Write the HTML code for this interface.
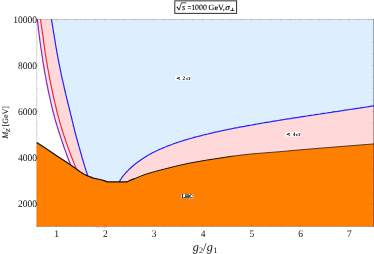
<!DOCTYPE html>
<html><head><meta charset="utf-8"><title>plot</title>
<style>
html,body{margin:0;padding:0;background:#fff;}
body{width:374px;height:254px;overflow:hidden;}
svg{display:block;will-change:transform;font-family:"Liberation Serif",serif;}
text{text-rendering:geometricPrecision;}
</style></head><body>
<svg width="374" height="254" viewBox="0 0 374 254">
<rect width="374" height="254" fill="#fff"/>
<path d="M37.3,19.4 L37.6,21.9 L37.9,24.3 L38.2,26.8 L38.4,29.3 L38.8,31.7 L39.1,34.2 L39.4,36.6 L39.7,39.1 L40.0,41.6 L40.4,44.0 L40.7,46.5 L41.1,49.0 L41.5,51.4 L41.8,53.9 L42.2,56.3 L42.6,58.8 L42.9,61.3 L43.3,63.7 L43.7,66.2 L44.1,68.7 L44.5,71.1 L45.0,73.6 L45.4,76.0 L45.9,78.5 L46.3,81.0 L46.8,83.4 L47.3,85.9 L47.8,88.4 L48.3,90.8 L48.8,93.3 L49.4,95.7 L49.9,98.2 L50.5,100.7 L51.0,103.1 L51.6,105.6 L52.2,108.1 L52.8,110.5 L53.4,113.0 L54.1,115.4 L54.7,117.9 L55.4,120.4 L56.1,122.8 L56.9,125.3 L57.6,127.8 L58.4,130.2 L59.2,132.7 L60.0,135.1 L60.8,137.6 L61.6,140.1 L62.5,142.5 L63.3,145.0 L64.1,147.5 L65.0,149.9 L65.9,152.4 L66.8,154.8 L67.6,157.3 L68.6,159.8 L69.5,162.2 L70.4,164.7 L76.3,168.7 L75.3,166.2 L74.2,163.6 L73.2,161.1 L72.2,158.6 L71.2,156.0 L70.3,153.5 L69.3,151.0 L68.4,148.5 L67.5,145.9 L66.6,143.4 L65.7,140.9 L64.9,138.3 L64.0,135.8 L63.2,133.3 L62.4,130.7 L61.6,128.2 L60.8,125.7 L60.1,123.2 L59.4,120.6 L58.7,118.1 L58.0,115.6 L57.3,113.0 L56.7,110.5 L56.1,108.0 L55.5,105.4 L54.9,102.9 L54.3,100.4 L53.7,97.8 L53.2,95.3 L52.6,92.8 L52.1,90.3 L51.5,87.7 L51.0,85.2 L50.5,82.7 L50.0,80.1 L49.5,77.6 L49.0,75.1 L48.6,72.5 L48.1,70.0 L47.6,67.5 L47.2,64.9 L46.8,62.4 L46.3,59.9 L45.9,57.4 L45.5,54.8 L45.1,52.3 L44.8,49.8 L44.4,47.2 L44.1,44.7 L43.7,42.2 L43.4,39.6 L43.1,37.1 L42.7,34.6 L42.3,32.1 L42.0,29.5 L41.6,27.0 L41.2,24.5 L40.9,21.9 L40.5,19.4Z" fill="#ece6fb"/>
<path d="M40.5,19.4 L40.9,21.9 L41.2,24.5 L41.6,27.0 L42.0,29.5 L42.3,32.1 L42.7,34.6 L43.1,37.1 L43.4,39.6 L43.7,42.2 L44.1,44.7 L44.4,47.2 L44.8,49.8 L45.1,52.3 L45.5,54.8 L45.9,57.4 L46.3,59.9 L46.8,62.4 L47.2,64.9 L47.6,67.5 L48.1,70.0 L48.6,72.5 L49.0,75.1 L49.5,77.6 L50.0,80.1 L50.5,82.7 L51.0,85.2 L51.5,87.7 L52.1,90.3 L52.6,92.8 L53.2,95.3 L53.7,97.8 L54.3,100.4 L54.9,102.9 L55.5,105.4 L56.1,108.0 L56.7,110.5 L57.3,113.0 L58.0,115.6 L58.7,118.1 L59.4,120.6 L60.1,123.2 L60.8,125.7 L61.6,128.2 L62.4,130.7 L63.2,133.3 L64.0,135.8 L64.9,138.3 L65.7,140.9 L66.6,143.4 L67.5,145.9 L68.4,148.5 L69.3,151.0 L70.3,153.5 L71.2,156.0 L72.2,158.6 L73.2,161.1 L74.2,163.6 L75.3,166.2 L76.3,168.7 L76.4,168.9 L80.0,171.7 L84.0,174.2 L87.7,175.9 L86.9,173.2 L86.0,170.6 L85.2,167.9 L84.4,165.3 L83.6,162.6 L82.8,160.0 L82.0,157.3 L81.3,154.7 L80.5,152.0 L79.8,149.4 L79.0,146.7 L78.3,144.1 L77.6,141.4 L76.8,138.8 L76.1,136.1 L75.4,133.5 L74.7,130.8 L74.1,128.2 L73.4,125.5 L72.8,122.8 L72.1,120.2 L71.5,117.5 L70.8,114.9 L70.2,112.2 L69.5,109.6 L68.9,106.9 L68.2,104.3 L67.6,101.6 L66.9,99.0 L66.3,96.3 L65.6,93.7 L65.0,91.0 L64.4,88.4 L63.8,85.7 L63.2,83.1 L62.6,80.4 L62.0,77.8 L61.4,75.1 L60.9,72.5 L60.3,69.8 L59.8,67.1 L59.2,64.5 L58.7,61.8 L58.2,59.2 L57.7,56.5 L57.2,53.9 L56.7,51.2 L56.3,48.6 L55.8,45.9 L55.4,43.3 L55.0,40.6 L54.5,38.0 L54.1,35.3 L53.6,32.7 L53.2,30.0 L52.8,27.4 L52.3,24.7 L51.9,22.1 L51.4,19.4Z" fill="#ffd9d9"/>
<path d="M51.4,19.4 L51.9,22.1 L52.3,24.7 L52.8,27.4 L53.2,30.0 L53.6,32.7 L54.1,35.3 L54.5,38.0 L55.0,40.6 L55.4,43.3 L55.8,45.9 L56.3,48.6 L56.7,51.2 L57.2,53.9 L57.7,56.5 L58.2,59.2 L58.7,61.8 L59.2,64.5 L59.8,67.1 L60.3,69.8 L60.9,72.5 L61.4,75.1 L62.0,77.8 L62.6,80.4 L63.2,83.1 L63.8,85.7 L64.4,88.4 L65.0,91.0 L65.6,93.7 L66.3,96.3 L66.9,99.0 L67.6,101.6 L68.2,104.3 L68.9,106.9 L69.5,109.6 L70.2,112.2 L70.8,114.9 L71.5,117.5 L72.1,120.2 L72.8,122.8 L73.4,125.5 L74.1,128.2 L74.7,130.8 L75.4,133.5 L76.1,136.1 L76.8,138.8 L77.6,141.4 L78.3,144.1 L79.0,146.7 L79.8,149.4 L80.5,152.0 L81.3,154.7 L82.0,157.3 L82.8,160.0 L83.6,162.6 L84.4,165.3 L85.2,167.9 L86.0,170.6 L86.9,173.2 L87.7,175.9 L93.4,178.1 L100.0,179.5 L104.0,180.7 L107.4,181.8 L119.2,182.2 L119.3,182.0 L119.4,181.8 L119.5,181.5 L119.6,181.3 L119.7,181.0 L119.8,180.8 L120.0,180.5 L120.1,180.2 L120.3,179.9 L120.5,179.6 L120.7,179.3 L120.9,179.0 L121.1,178.6 L121.4,178.3 L121.6,177.9 L121.9,177.6 L122.1,177.2 L122.4,176.8 L122.7,176.4 L123.0,176.1 L123.3,175.7 L123.7,175.2 L124.0,174.8 L124.4,174.4 L124.7,174.0 L125.1,173.6 L125.5,173.1 L125.9,172.7 L126.3,172.2 L126.8,171.8 L127.2,171.3 L127.7,170.9 L128.1,170.4 L128.6,169.9 L129.1,169.4 L129.6,169.0 L130.1,168.5 L130.6,168.0 L131.2,167.5 L131.7,167.0 L132.3,166.5 L132.9,166.0 L133.4,165.5 L134.0,165.0 L134.7,164.5 L135.3,164.0 L135.9,163.5 L136.6,163.0 L137.2,162.5 L137.9,162.0 L138.6,161.5 L139.3,161.0 L140.0,160.5 L140.7,160.0 L141.4,159.5 L142.2,159.0 L142.9,158.5 L143.7,158.0 L144.5,157.5 L145.3,157.0 L146.1,156.5 L146.9,156.0 L147.7,155.5 L148.6,155.0 L149.4,154.5 L150.3,154.0 L151.2,153.6 L152.1,153.1 L153.0,152.6 L153.9,152.1 L154.8,151.7 L155.8,151.2 L156.7,150.8 L157.7,150.3 L158.7,149.8 L159.6,149.4 L160.6,149.0 L161.7,148.5 L162.7,148.1 L163.7,147.6 L164.8,147.2 L165.8,146.8 L166.9,146.3 L168.0,145.9 L169.1,145.5 L170.2,145.1 L171.3,144.7 L172.5,144.2 L173.6,143.8 L174.8,143.4 L175.9,143.0 L177.1,142.6 L178.3,142.2 L179.5,141.8 L180.7,141.4 L182.0,141.0 L183.2,140.6 L184.5,140.2 L185.7,139.9 L187.0,139.5 L188.3,139.1 L189.6,138.7 L190.9,138.3 L192.3,138.0 L193.6,137.6 L195.0,137.2 L196.3,136.8 L197.7,136.5 L199.1,136.1 L200.5,135.8 L201.9,135.4 L203.3,135.0 L204.8,134.7 L206.2,134.3 L207.7,134.0 L209.2,133.6 L210.6,133.3 L212.1,132.9 L213.7,132.6 L215.2,132.2 L216.7,131.9 L218.3,131.6 L219.8,131.2 L221.4,130.9 L223.0,130.5 L224.6,130.2 L226.2,129.9 L227.8,129.5 L229.4,129.2 L231.1,128.9 L232.7,128.5 L234.4,128.2 L236.1,127.9 L237.8,127.6 L239.5,127.2 L241.2,126.9 L242.9,126.6 L244.7,126.3 L246.4,125.9 L248.2,125.6 L250.0,125.3 L251.8,125.0 L253.6,124.6 L255.4,124.3 L257.2,124.0 L259.1,123.7 L260.9,123.4 L262.8,123.0 L264.7,122.7 L266.5,122.4 L268.4,122.1 L270.4,121.8 L272.3,121.4 L274.2,121.1 L276.2,120.8 L278.1,120.5 L280.1,120.2 L282.1,119.8 L284.1,119.5 L286.1,119.2 L288.1,118.9 L290.2,118.6 L292.2,118.2 L294.3,117.9 L296.3,117.6 L298.4,117.3 L300.5,116.9 L302.6,116.6 L304.7,116.3 L306.9,116.0 L309.0,115.6 L311.2,115.3 L313.3,115.0 L315.5,114.6 L317.7,114.3 L319.9,114.0 L322.1,113.6 L324.4,113.3 L326.6,113.0 L328.9,112.6 L331.1,112.3 L333.4,111.9 L335.7,111.6 L338.0,111.3 L340.3,110.9 L342.6,110.6 L345.0,110.2 L347.3,109.9 L349.7,109.5 L352.1,109.2 L354.5,108.8 L356.9,108.4 L359.3,108.1 L361.7,107.7 L364.1,107.4 L366.6,107.0 L369.0,106.6 L371.5,106.2 L374.0,105.9 L374.0,19.4Z" fill="#ddeeff"/>
<path d="M119.2,182.2 L119.3,182.0 L119.4,181.8 L119.5,181.5 L119.6,181.3 L119.7,181.0 L119.8,180.8 L120.0,180.5 L120.1,180.2 L120.3,179.9 L120.5,179.6 L120.7,179.3 L120.9,179.0 L121.1,178.6 L121.4,178.3 L121.6,177.9 L121.9,177.6 L122.1,177.2 L122.4,176.8 L122.7,176.4 L123.0,176.1 L123.3,175.7 L123.7,175.2 L124.0,174.8 L124.4,174.4 L124.7,174.0 L125.1,173.6 L125.5,173.1 L125.9,172.7 L126.3,172.2 L126.8,171.8 L127.2,171.3 L127.7,170.9 L128.1,170.4 L128.6,169.9 L129.1,169.4 L129.6,169.0 L130.1,168.5 L130.6,168.0 L131.2,167.5 L131.7,167.0 L132.3,166.5 L132.9,166.0 L133.4,165.5 L134.0,165.0 L134.7,164.5 L135.3,164.0 L135.9,163.5 L136.6,163.0 L137.2,162.5 L137.9,162.0 L138.6,161.5 L139.3,161.0 L140.0,160.5 L140.7,160.0 L141.4,159.5 L142.2,159.0 L142.9,158.5 L143.7,158.0 L144.5,157.5 L145.3,157.0 L146.1,156.5 L146.9,156.0 L147.7,155.5 L148.6,155.0 L149.4,154.5 L150.3,154.0 L151.2,153.6 L152.1,153.1 L153.0,152.6 L153.9,152.1 L154.8,151.7 L155.8,151.2 L156.7,150.8 L157.7,150.3 L158.7,149.8 L159.6,149.4 L160.6,149.0 L161.7,148.5 L162.7,148.1 L163.7,147.6 L164.8,147.2 L165.8,146.8 L166.9,146.3 L168.0,145.9 L169.1,145.5 L170.2,145.1 L171.3,144.7 L172.5,144.2 L173.6,143.8 L174.8,143.4 L175.9,143.0 L177.1,142.6 L178.3,142.2 L179.5,141.8 L180.7,141.4 L182.0,141.0 L183.2,140.6 L184.5,140.2 L185.7,139.9 L187.0,139.5 L188.3,139.1 L189.6,138.7 L190.9,138.3 L192.3,138.0 L193.6,137.6 L195.0,137.2 L196.3,136.8 L197.7,136.5 L199.1,136.1 L200.5,135.8 L201.9,135.4 L203.3,135.0 L204.8,134.7 L206.2,134.3 L207.7,134.0 L209.2,133.6 L210.6,133.3 L212.1,132.9 L213.7,132.6 L215.2,132.2 L216.7,131.9 L218.3,131.6 L219.8,131.2 L221.4,130.9 L223.0,130.5 L224.6,130.2 L226.2,129.9 L227.8,129.5 L229.4,129.2 L231.1,128.9 L232.7,128.5 L234.4,128.2 L236.1,127.9 L237.8,127.6 L239.5,127.2 L241.2,126.9 L242.9,126.6 L244.7,126.3 L246.4,125.9 L248.2,125.6 L250.0,125.3 L251.8,125.0 L253.6,124.6 L255.4,124.3 L257.2,124.0 L259.1,123.7 L260.9,123.4 L262.8,123.0 L264.7,122.7 L266.5,122.4 L268.4,122.1 L270.4,121.8 L272.3,121.4 L274.2,121.1 L276.2,120.8 L278.1,120.5 L280.1,120.2 L282.1,119.8 L284.1,119.5 L286.1,119.2 L288.1,118.9 L290.2,118.6 L292.2,118.2 L294.3,117.9 L296.3,117.6 L298.4,117.3 L300.5,116.9 L302.6,116.6 L304.7,116.3 L306.9,116.0 L309.0,115.6 L311.2,115.3 L313.3,115.0 L315.5,114.6 L317.7,114.3 L319.9,114.0 L322.1,113.6 L324.4,113.3 L326.6,113.0 L328.9,112.6 L331.1,112.3 L333.4,111.9 L335.7,111.6 L338.0,111.3 L340.3,110.9 L342.6,110.6 L345.0,110.2 L347.3,109.9 L349.7,109.5 L352.1,109.2 L354.5,108.8 L356.9,108.4 L359.3,108.1 L361.7,107.7 L364.1,107.4 L366.6,107.0 L369.0,106.6 L371.5,106.2 L374.0,105.9 L374.0,143.9 L350.0,145.8 L320.0,148.2 L300.7,149.8 L280.0,151.7 L260.2,153.2 L250.0,154.1 L233.5,156.0 L206.7,160.1 L190.0,163.0 L180.0,165.2 L174.2,166.6 L164.3,169.1 L155.3,171.4 L146.2,174.1 L142.1,175.6 L134.0,178.9 L130.8,180.0 L127.4,181.8 L119.2,181.8Z" fill="#ffd9d9"/>
<path d="M36.7,142.5 L46.0,148.6 L54.0,154.0 L70.4,164.8 L76.4,168.9 L80.0,171.7 L84.0,174.2 L87.7,175.9 L93.4,178.1 L100.0,179.5 L104.0,180.7 L107.4,181.8 L127.4,181.8 L130.8,180.0 L134.0,178.9 L142.1,175.6 L146.2,174.1 L155.3,171.4 L164.3,169.1 L174.2,166.6 L180.0,165.2 L190.0,163.0 L206.7,160.1 L233.5,156.0 L250.0,154.1 L260.2,153.2 L280.0,151.7 L300.7,149.8 L320.0,148.2 L350.0,145.8 L374.0,143.9 L374.0,226.5 L36.7,226.5Z" fill="#ff8000"/>
<path d="M37.3,19.4 L37.6,21.9 L37.9,24.3 L38.2,26.8 L38.4,29.3 L38.8,31.7 L39.1,34.2 L39.4,36.6 L39.7,39.1 L40.0,41.6 L40.4,44.0 L40.7,46.5 L41.1,49.0 L41.5,51.4 L41.8,53.9 L42.2,56.3 L42.6,58.8 L42.9,61.3 L43.3,63.7 L43.7,66.2 L44.1,68.7 L44.5,71.1 L45.0,73.6 L45.4,76.0 L45.9,78.5 L46.3,81.0 L46.8,83.4 L47.3,85.9 L47.8,88.4 L48.3,90.8 L48.8,93.3 L49.4,95.7 L49.9,98.2 L50.5,100.7 L51.0,103.1 L51.6,105.6 L52.2,108.1 L52.8,110.5 L53.4,113.0 L54.1,115.4 L54.7,117.9 L55.4,120.4 L56.1,122.8 L56.9,125.3 L57.6,127.8 L58.4,130.2 L59.2,132.7 L60.0,135.1 L60.8,137.6 L61.6,140.1 L62.5,142.5 L63.3,145.0 L64.1,147.5 L65.0,149.9 L65.9,152.4 L66.8,154.8 L67.6,157.3 L68.6,159.8 L69.5,162.2 L70.4,164.7" fill="none" stroke="#9028a8" stroke-width="1.2"/>
<path d="M40.5,19.4 L40.9,21.9 L41.2,24.5 L41.6,27.0 L42.0,29.5 L42.3,32.1 L42.7,34.6 L43.1,37.1 L43.4,39.6 L43.7,42.2 L44.1,44.7 L44.4,47.2 L44.8,49.8 L45.1,52.3 L45.5,54.8 L45.9,57.4 L46.3,59.9 L46.8,62.4 L47.2,64.9 L47.6,67.5 L48.1,70.0 L48.6,72.5 L49.0,75.1 L49.5,77.6 L50.0,80.1 L50.5,82.7 L51.0,85.2 L51.5,87.7 L52.1,90.3 L52.6,92.8 L53.2,95.3 L53.7,97.8 L54.3,100.4 L54.9,102.9 L55.5,105.4 L56.1,108.0 L56.7,110.5 L57.3,113.0 L58.0,115.6 L58.7,118.1 L59.4,120.6 L60.1,123.2 L60.8,125.7 L61.6,128.2 L62.4,130.7 L63.2,133.3 L64.0,135.8 L64.9,138.3 L65.7,140.9 L66.6,143.4 L67.5,145.9 L68.4,148.5 L69.3,151.0 L70.3,153.5 L71.2,156.0 L72.2,158.6 L73.2,161.1 L74.2,163.6 L75.3,166.2 L76.3,168.7" fill="none" stroke="#ff2020" stroke-width="1.15"/>
<path d="M51.4,19.4 L51.9,22.1 L52.3,24.7 L52.8,27.4 L53.2,30.0 L53.6,32.7 L54.1,35.3 L54.5,38.0 L55.0,40.6 L55.4,43.3 L55.8,45.9 L56.3,48.6 L56.7,51.2 L57.2,53.9 L57.7,56.5 L58.2,59.2 L58.7,61.8 L59.2,64.5 L59.8,67.1 L60.3,69.8 L60.9,72.5 L61.4,75.1 L62.0,77.8 L62.6,80.4 L63.2,83.1 L63.8,85.7 L64.4,88.4 L65.0,91.0 L65.6,93.7 L66.3,96.3 L66.9,99.0 L67.6,101.6 L68.2,104.3 L68.9,106.9 L69.5,109.6 L70.2,112.2 L70.8,114.9 L71.5,117.5 L72.1,120.2 L72.8,122.8 L73.4,125.5 L74.1,128.2 L74.7,130.8 L75.4,133.5 L76.1,136.1 L76.8,138.8 L77.6,141.4 L78.3,144.1 L79.0,146.7 L79.8,149.4 L80.5,152.0 L81.3,154.7 L82.0,157.3 L82.8,160.0 L83.6,162.6 L84.4,165.3 L85.2,167.9 L86.0,170.6 L86.9,173.2 L87.7,175.9" fill="none" stroke="#2222ff" stroke-width="1.2"/>
<path d="M119.2,182.2 L119.3,182.0 L119.4,181.8 L119.5,181.5 L119.6,181.3 L119.7,181.0 L119.8,180.8 L120.0,180.5 L120.1,180.2 L120.3,179.9 L120.5,179.6 L120.7,179.3 L120.9,179.0 L121.1,178.6 L121.4,178.3 L121.6,177.9 L121.9,177.6 L122.1,177.2 L122.4,176.8 L122.7,176.4 L123.0,176.1 L123.3,175.7 L123.7,175.2 L124.0,174.8 L124.4,174.4 L124.7,174.0 L125.1,173.6 L125.5,173.1 L125.9,172.7 L126.3,172.2 L126.8,171.8 L127.2,171.3 L127.7,170.9 L128.1,170.4 L128.6,169.9 L129.1,169.4 L129.6,169.0 L130.1,168.5 L130.6,168.0 L131.2,167.5 L131.7,167.0 L132.3,166.5 L132.9,166.0 L133.4,165.5 L134.0,165.0 L134.7,164.5 L135.3,164.0 L135.9,163.5 L136.6,163.0 L137.2,162.5 L137.9,162.0 L138.6,161.5 L139.3,161.0 L140.0,160.5 L140.7,160.0 L141.4,159.5 L142.2,159.0 L142.9,158.5 L143.7,158.0 L144.5,157.5 L145.3,157.0 L146.1,156.5 L146.9,156.0 L147.7,155.5 L148.6,155.0 L149.4,154.5 L150.3,154.0 L151.2,153.6 L152.1,153.1 L153.0,152.6 L153.9,152.1 L154.8,151.7 L155.8,151.2 L156.7,150.8 L157.7,150.3 L158.7,149.8 L159.6,149.4 L160.6,149.0 L161.7,148.5 L162.7,148.1 L163.7,147.6 L164.8,147.2 L165.8,146.8 L166.9,146.3 L168.0,145.9 L169.1,145.5 L170.2,145.1 L171.3,144.7 L172.5,144.2 L173.6,143.8 L174.8,143.4 L175.9,143.0 L177.1,142.6 L178.3,142.2 L179.5,141.8 L180.7,141.4 L182.0,141.0 L183.2,140.6 L184.5,140.2 L185.7,139.9 L187.0,139.5 L188.3,139.1 L189.6,138.7 L190.9,138.3 L192.3,138.0 L193.6,137.6 L195.0,137.2 L196.3,136.8 L197.7,136.5 L199.1,136.1 L200.5,135.8 L201.9,135.4 L203.3,135.0 L204.8,134.7 L206.2,134.3 L207.7,134.0 L209.2,133.6 L210.6,133.3 L212.1,132.9 L213.7,132.6 L215.2,132.2 L216.7,131.9 L218.3,131.6 L219.8,131.2 L221.4,130.9 L223.0,130.5 L224.6,130.2 L226.2,129.9 L227.8,129.5 L229.4,129.2 L231.1,128.9 L232.7,128.5 L234.4,128.2 L236.1,127.9 L237.8,127.6 L239.5,127.2 L241.2,126.9 L242.9,126.6 L244.7,126.3 L246.4,125.9 L248.2,125.6 L250.0,125.3 L251.8,125.0 L253.6,124.6 L255.4,124.3 L257.2,124.0 L259.1,123.7 L260.9,123.4 L262.8,123.0 L264.7,122.7 L266.5,122.4 L268.4,122.1 L270.4,121.8 L272.3,121.4 L274.2,121.1 L276.2,120.8 L278.1,120.5 L280.1,120.2 L282.1,119.8 L284.1,119.5 L286.1,119.2 L288.1,118.9 L290.2,118.6 L292.2,118.2 L294.3,117.9 L296.3,117.6 L298.4,117.3 L300.5,116.9 L302.6,116.6 L304.7,116.3 L306.9,116.0 L309.0,115.6 L311.2,115.3 L313.3,115.0 L315.5,114.6 L317.7,114.3 L319.9,114.0 L322.1,113.6 L324.4,113.3 L326.6,113.0 L328.9,112.6 L331.1,112.3 L333.4,111.9 L335.7,111.6 L338.0,111.3 L340.3,110.9 L342.6,110.6 L345.0,110.2 L347.3,109.9 L349.7,109.5 L352.1,109.2 L354.5,108.8 L356.9,108.4 L359.3,108.1 L361.7,107.7 L364.1,107.4 L366.6,107.0 L369.0,106.6 L371.5,106.2 L374.0,105.9" fill="none" stroke="#2222ff" stroke-width="1.2"/>
<path d="M36.7,142.5 L46.0,148.6 L54.0,154.0 L70.4,164.8 L76.4,168.9 L80.0,171.7 L84.0,174.2 L87.7,175.9 L93.4,178.1 L100.0,179.5 L104.0,180.7 L107.4,181.8 L127.4,181.8 L130.8,180.0 L134.0,178.9" fill="none" stroke="#111" stroke-width="1.25" stroke-linejoin="round"/>
<path d="M130.8,180.0 L134.0,178.9 L142.1,175.6 L146.2,174.1 L155.3,171.4 L164.3,169.1 L174.2,166.6 L180.0,165.2 L190.0,163.0 L206.7,160.1 L233.5,156.0" fill="none" stroke="#111" stroke-width="1.0" stroke-linejoin="round"/>
<path d="M233.5,156.0 L250.0,154.1 L260.2,153.2 L280.0,151.7 L300.7,149.8 L320.0,148.2 L350.0,145.8 L374.0,143.9" fill="none" stroke="#181008" stroke-width="0.75" stroke-linejoin="round"/>
<g stroke="#000" stroke-opacity="0.2" stroke-width="0.8" fill="none">
<path d="M36.7,19.4V226.5"/><path d="M373.5,19.4V226.5" stroke-width="1" stroke-opacity="0.3"/><path d="M36.7,19.4H374" stroke-opacity="0.26"/><path d="M36.7,226.5H374" stroke-opacity="0.26"/>
<path d="M36.68,226.5v-1.3M36.68,19.4v1.3M46.44,226.5v-1.3M46.44,19.4v1.3M56.20,226.5v-2.2M56.20,19.4v2.2M65.96,226.5v-1.3M65.96,19.4v1.3M75.72,226.5v-1.3M75.72,19.4v1.3M85.48,226.5v-1.3M85.48,19.4v1.3M95.24,226.5v-1.3M95.24,19.4v1.3M105.00,226.5v-2.2M105.00,19.4v2.2M114.76,226.5v-1.3M114.76,19.4v1.3M124.52,226.5v-1.3M124.52,19.4v1.3M134.28,226.5v-1.3M134.28,19.4v1.3M144.04,226.5v-1.3M144.04,19.4v1.3M153.80,226.5v-2.2M153.80,19.4v2.2M163.56,226.5v-1.3M163.56,19.4v1.3M173.32,226.5v-1.3M173.32,19.4v1.3M183.08,226.5v-1.3M183.08,19.4v1.3M192.84,226.5v-1.3M192.84,19.4v1.3M202.60,226.5v-2.2M202.60,19.4v2.2M212.36,226.5v-1.3M212.36,19.4v1.3M222.12,226.5v-1.3M222.12,19.4v1.3M231.88,226.5v-1.3M231.88,19.4v1.3M241.64,226.5v-1.3M241.64,19.4v1.3M251.40,226.5v-2.2M251.40,19.4v2.2M261.16,226.5v-1.3M261.16,19.4v1.3M270.92,226.5v-1.3M270.92,19.4v1.3M280.68,226.5v-1.3M280.68,19.4v1.3M290.44,226.5v-1.3M290.44,19.4v1.3M300.20,226.5v-2.2M300.20,19.4v2.2M309.96,226.5v-1.3M309.96,19.4v1.3M319.72,226.5v-1.3M319.72,19.4v1.3M329.48,226.5v-1.3M329.48,19.4v1.3M339.24,226.5v-1.3M339.24,19.4v1.3M349.00,226.5v-2.2M349.00,19.4v2.2M358.76,226.5v-1.3M358.76,19.4v1.3M368.52,226.5v-1.3M368.52,19.4v1.3M36.7,227.10h1.3M373.5,227.10h-1.3M36.7,215.55h1.3M373.5,215.55h-1.3M36.7,204.00h2.2M373.5,204.00h-2.2M36.7,192.45h1.3M373.5,192.45h-1.3M36.7,180.90h1.3M373.5,180.90h-1.3M36.7,169.35h1.3M373.5,169.35h-1.3M36.7,157.80h2.2M373.5,157.80h-2.2M36.7,146.25h1.3M373.5,146.25h-1.3M36.7,134.70h1.3M373.5,134.70h-1.3M36.7,123.15h1.3M373.5,123.15h-1.3M36.7,111.60h2.2M373.5,111.60h-2.2M36.7,100.05h1.3M373.5,100.05h-1.3M36.7,88.50h1.3M373.5,88.50h-1.3M36.7,76.95h1.3M373.5,76.95h-1.3M36.7,65.40h2.2M373.5,65.40h-2.2M36.7,53.85h1.3M373.5,53.85h-1.3M36.7,42.30h1.3M373.5,42.30h-1.3M36.7,30.75h1.3M373.5,30.75h-1.3M36.7,19.20h2.2M373.5,19.20h-2.2" stroke-width="0.6"/>
</g>
<g font-size="10" fill="#111"><text transform="translate(56.6,236.6) scale(0.95,1)" text-anchor="middle">1</text><text transform="translate(105.4,236.6) scale(0.95,1)" text-anchor="middle">2</text><text transform="translate(154.2,236.6) scale(0.95,1)" text-anchor="middle">3</text><text transform="translate(203.0,236.6) scale(0.95,1)" text-anchor="middle">4</text><text transform="translate(251.8,236.6) scale(0.95,1)" text-anchor="middle">5</text><text transform="translate(300.6,236.6) scale(0.95,1)" text-anchor="middle">6</text><text transform="translate(349.4,236.6) scale(0.95,1)" text-anchor="middle">7</text><text transform="translate(37.1,207.4) scale(0.95,1)" text-anchor="end">2000</text><text transform="translate(37.1,161) scale(0.95,1)" text-anchor="end">4000</text><text transform="translate(37.1,114.7) scale(0.95,1)" text-anchor="end">6000</text><text transform="translate(37.1,68.8) scale(0.95,1)" text-anchor="end">8000</text><text transform="translate(37.1,23) scale(0.95,1)" text-anchor="end">10000</text></g>
<rect x="96.2" y="227.1" width="1" height="0.9" fill="#ff3030" opacity="0.45"/><rect x="98" y="227.1" width="1.6" height="0.9" fill="#7060ff" opacity="0.4"/><rect x="102.2" y="227.1" width="0.7" height="0.9" fill="#3030ff" opacity="0.5"/><rect x="104.4" y="227.1" width="1.2" height="0.9" fill="#ff3030" opacity="0.55"/>
<g font-size="5.3" font-weight="bold" fill="#000">
<rect x="175.2" y="76" width="15.7" height="4.4" fill="#fff"/>
<text x="176.6" y="79.8" stroke="#000" stroke-width="0.3" textLength="3.9" lengthAdjust="spacingAndGlyphs">&lt;</text>
<text x="182.5" y="79.8">2</text>
<text x="186" y="79.8" font-style="italic" font-weight="normal" textLength="4.7" lengthAdjust="spacingAndGlyphs">σ</text>
<rect x="285.2" y="132" width="15.7" height="4.4" fill="#fff"/>
<text x="286.6" y="135.8" stroke="#000" stroke-width="0.3" textLength="3.9" lengthAdjust="spacingAndGlyphs">&lt;</text>
<text x="292.7" y="135.8">4</text>
<text x="295.8" y="135.8" font-style="italic" font-weight="normal" textLength="4.9" lengthAdjust="spacingAndGlyphs">σ</text>
<rect x="181.1" y="194.2" width="12.2" height="4.2" fill="#fff"/>
<text x="181.6" y="198" stroke="#000" stroke-width="0.25" textLength="11.3" lengthAdjust="spacingAndGlyphs">LHC</text>
</g>
<rect x="174.8" y="0.85" width="61.8" height="12.5" fill="#fff" stroke="#222" stroke-width="0.95"/>
<g font-size="8" fill="#000" stroke="#000" stroke-width="0.1">
<path d="M176.2,7.5L177.3,6.9" fill="none" stroke="#111" stroke-width="0.5"/>
<path d="M177.2,6.9L179.0,10.1" fill="none" stroke="#111" stroke-width="1"/>
<path d="M179.0,10.2L181.5,2.8H186.4" fill="none" stroke="#111" stroke-width="0.75"/>
<text x="181.9" y="9.7" font-style="italic" font-size="8.4">s</text>
<text x="187.6" y="9.7" textLength="3.9" lengthAdjust="spacingAndGlyphs">=</text>
<text x="191.2" y="9.7" textLength="15.6" lengthAdjust="spacingAndGlyphs">1000</text>
<text x="208.6" y="9.7" textLength="16.2" lengthAdjust="spacingAndGlyphs">GeV,</text>
<text x="225.3" y="9.7" font-style="italic" textLength="4.6" lengthAdjust="spacingAndGlyphs">σ</text>
<path d="M230.4,10.5H234.3M232.3,10.5L232.8,7.8" fill="none" stroke="#000" stroke-width="0.75"/>
</g>
<g transform="translate(7.9,138.8) rotate(-90)" font-size="8" fill="#111" stroke="#111" stroke-width="0.08"><text x="0" y="0" font-style="italic" font-size="8.4">M</text><text x="6.8" y="1.9" font-style="italic" font-size="6">Z</text><text x="10.0" y="-1.0" font-size="5.5">′</text><text x="12.4" y="0">[GeV]</text></g>
<text x="192.8" y="251" font-size="12.3" font-style="italic" fill="#111">g<tspan font-style="normal" font-size="8.3" dy="2">2</tspan><tspan dy="-2" font-style="normal" dx="-0.2">/</tspan><tspan dx="0.3">g</tspan><tspan font-style="normal" font-size="8.3" dy="2" dx="0.4">1</tspan></text>
</svg>
</body></html>
